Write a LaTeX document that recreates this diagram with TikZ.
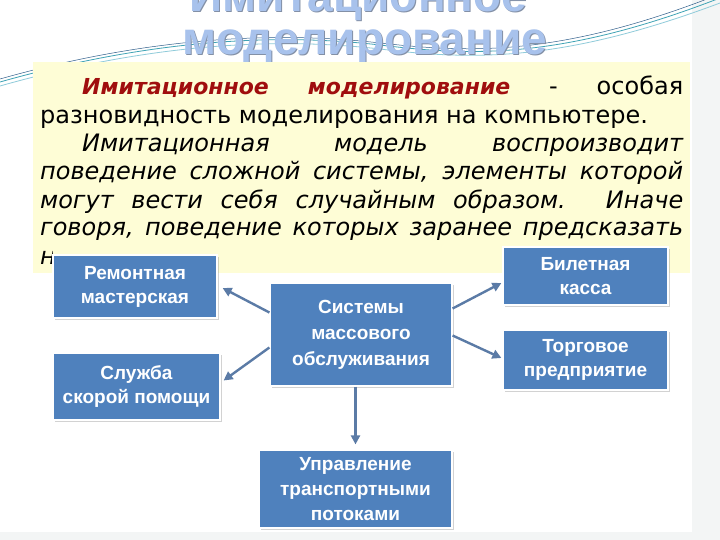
\documentclass[tikz,border=0pt]{standalone}
\usepackage{fontspec}
\setmainfont{DejaVu Sans}
\newfontfamily\boxfont{Liberation Sans}
\usetikzlibrary{arrows.meta,shadows}
\definecolor{boxblue}{HTML}{4F81BD}
\definecolor{arrcol}{HTML}{5B7BA6}
\definecolor{noteyellow}{HTML}{FEFDD6}
\definecolor{termred}{HTML}{A00E0E}
\definecolor{titleblue}{HTML}{A8C2EC}
\definecolor{titleshade}{HTML}{8390A6}
\definecolor{waveA}{HTML}{3FA3B5}
\definecolor{waveB}{HTML}{8FCBDA}
\definecolor{waveC}{HTML}{2D5D8A}
\definecolor{edgegray}{HTML}{F3F5F5}
\tikzset{
  bluebox/.style={rectangle, fill=boxblue, draw=white, line width=1.2pt,
    drop shadow={opacity=0.35, shadow xshift=1.5pt, shadow yshift=-1.5pt},
    text=white, align=center, inner sep=2pt,
    font=\boxfont\bfseries\fontsize{19}{24}\selectfont},
  conn/.style={draw=arrcol, line width=2.4pt, -{Triangle[length=9pt,width=9pt]}},
  bodyline/.style={anchor=base west, inner sep=0pt, font=\fontsize{24}{28}\selectfont},
  titletext/.style={anchor=base, inner sep=0pt, font=\boxfont\bfseries\fontsize{46}{46}\selectfont},
  wave/.style={line width=0.8pt}
}
\begin{document}
\begin{tikzpicture}[x=1pt,y=-1pt]
\useasboundingbox (0,0) rectangle (720,540);
\fill[white] (0,0) rectangle (720,540);
\fill[edgegray] (692,0) rectangle (720,540);
\fill[edgegray] (0,532) rectangle (720,540);
% waves
\draw[wave, waveA] (0,82) .. controls (120,48) and (250,30) .. (380,45) .. controls (470,56) and (560,60) .. (720,-2);
\draw[wave, waveB] (0,86) .. controls (120,52) and (250,34) .. (380,49) .. controls (470,60) and (560,63) .. (720,3);
\draw[wave, waveC, line width=0.5pt] (0,79) .. controls (120,45) and (250,28) .. (380,43) .. controls (470,53) and (560,57) .. (720,-6);
% title
\node[titletext, text=titleshade] (t1s) at (359.5,13) {Имитационное};
\node[titletext, text=titleblue] (t1) at (358.5,12) {Имитационное};
\node[titletext, text=titleshade] (t2s) at (366,56) {моделирование};
\node[titletext, text=titleblue] (t2) at (365,55) {моделирование};
% yellow note
\fill[noteyellow] (33,62) rectangle (690,273);
\node[bodyline] (l1) at (82,95) {\makebox[601pt][s]{\color{termred}\fontsize{22}{28}\selectfont\bfseries\itshape Имитационное моделирование\color{black}\fontsize{24}{28}\selectfont\normalfont{} - особая}};
\node[bodyline] (l2) at (40,124) {разновидность моделирования на компьютере.};
\node[bodyline] (l3) at (82,152) {\itshape\makebox[601pt][s]{Имитационная модель воспроизводит}};
\node[bodyline] (l4) at (40,180) {\itshape\makebox[643pt][s]{поведение сложной системы, элементы которой}};
\node[bodyline] (l5) at (40,208) {\itshape\makebox[643pt][s]{могут вести себя случайным образом. Иначе}};
\node[bodyline] (l6) at (40,236) {\itshape\makebox[643pt][s]{говоря, поведение которых заранее предсказать}};
\begin{scope}
\clip (33,240) rectangle (52,273);
\node[bodyline] (l7) at (40,264) {\itshape нельзя.};
\end{scope}
% boxes
\node[bluebox, minimum width=164pt, minimum height=63pt] (rem) at (135,286.5) {Ремонтная\\мастерская};
\node[bluebox, minimum width=167pt, minimum height=67pt] (sl) at (136.5,386.5) {Служба\\скорой помощи};
\node[bluebox, minimum width=182pt, minimum height=103pt, font=\boxfont\bfseries\fontsize{19}{26}\selectfont] (sys) at (361,334.5) {Системы\\массового\\обслуживания};
\node[bluebox, minimum width=165pt, minimum height=58pt] (bil) at (585.5,276) {Билетная\\касса};
\node[bluebox, minimum width=165pt, minimum height=60pt] (torg) at (585.5,360) {Торговое\\предприятие};
\node[bluebox, minimum width=193pt, minimum height=78pt, font=\boxfont\bfseries\fontsize{19}{25}\selectfont] (upr) at (355.5,489) {Управление\\транспортными\\потоками};
% connectors
\draw[conn] ([yshift=22pt]sys.west) -- ([xshift=5pt,yshift=-1.5pt]rem.east);
\draw[conn] ([yshift=-13pt]sys.west) -- ([xshift=3pt,yshift=6pt]sl.east);
\draw[conn] ([yshift=26pt]sys.east) -- ([xshift=-1pt,yshift=-7pt]bil.west);
\draw[conn] ([yshift=-1pt]sys.east) -- ([xshift=-1pt,yshift=2pt]torg.west);
\draw[conn, shorten >=5pt] (upr.north |- sys.south) -- (upr.north);
\end{tikzpicture}
\end{document}
